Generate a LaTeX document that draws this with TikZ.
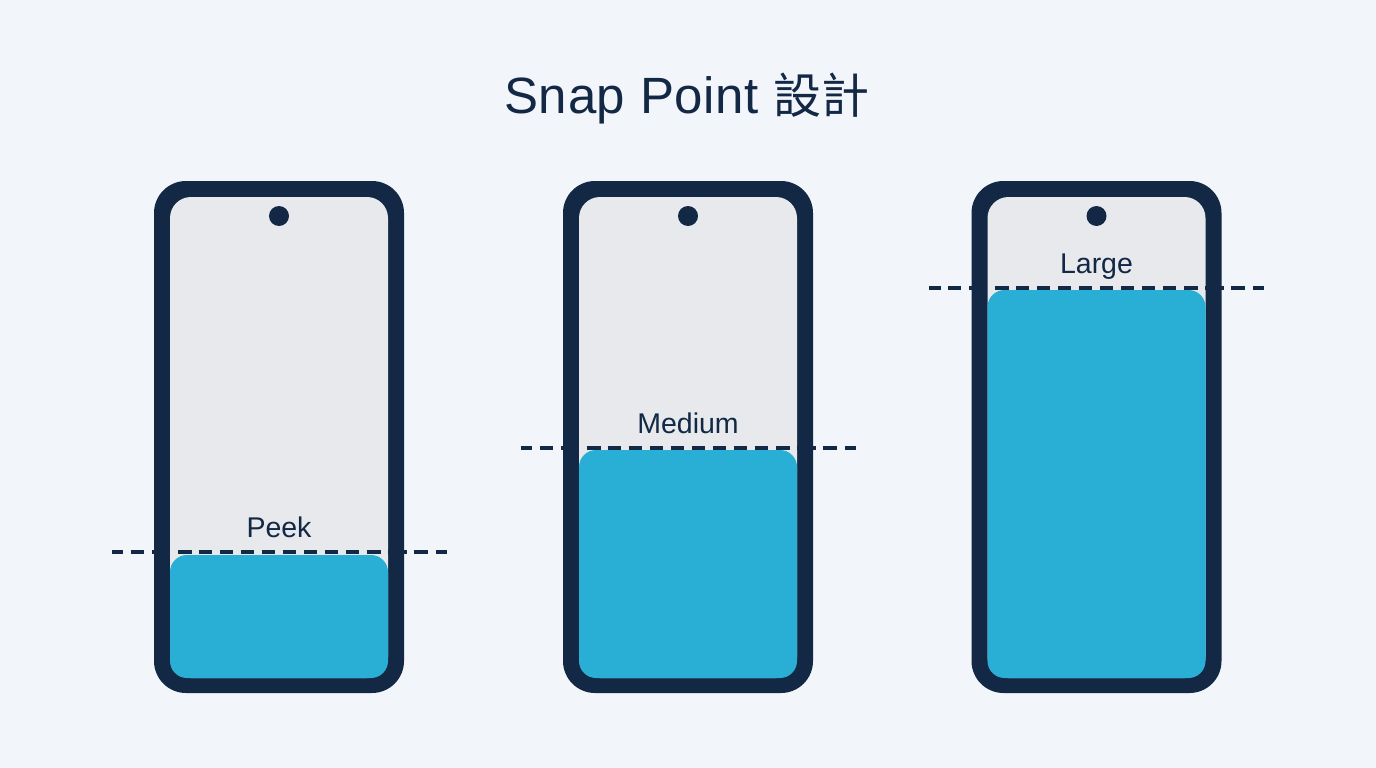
\documentclass[tikz,border=0pt]{standalone}
\usepackage{fontspec}
\setmainfont{Liberation Sans}
\newfontfamily\titlefont[LetterSpace=1.2]{Liberation Sans}
\newfontfamily\cjkfont{Noto Sans CJK TC}
\definecolor{bgc}{HTML}{F2F5FA}
\definecolor{navy}{HTML}{122844}
\definecolor{screenc}{HTML}{E7E9ED}
\definecolor{sheetc}{HTML}{29AED6}
\definecolor{inkc}{HTML}{122844}
\tikzset{
  x=1pt,y=-1pt,
  pbody/.style={rectangle,fill=navy,draw=none,rounded corners=32pt,minimum width=250pt,minimum height=512pt,inner sep=0pt,outer sep=0pt},
  pscreen/.style={rectangle,fill=screenc,draw=none,rounded corners=21pt,minimum width=218pt,minimum height=481pt,inner sep=0pt,outer sep=0pt},
  pcam/.style={circle,fill=navy,draw=none,minimum size=20pt,inner sep=0pt,outer sep=0pt},
  psheet/.style={fill=sheetc,draw=none},
  snapline/.style={draw=navy,line width=4pt,dash pattern=on 11.5pt off 7.5pt on 13pt off 8pt on 14pt off 12pt on 14pt off 7pt on 13pt off 8pt on 13pt off 8pt on 13pt off 8pt on 13pt off 8pt on 13pt off 8pt on 13pt off 8pt on 13pt off 8pt on 13pt off 8pt on 14pt off 7pt on 19pt off 7pt on 14pt off 8pt on 11pt off 50pt},
  snaplabel/.style={font=\fontsize{28.5}{32}\selectfont,text=inkc,inner sep=0pt,anchor=base},
  titlelabel/.style={font=\titlefont\fontsize{51}{60}\selectfont,text=inkc,inner sep=0pt,anchor=base}
}
\newcommand{\phonedraw}[5]{% prefix, centre x, sheet top y, line y, label
  \node[pbody] (#1body) at (#2,437) {};
  \node[pscreen] (#1screen) at (#2,437.5) {};
  \node[pcam] (#1cam) at (#2,216) {};
  \fill[psheet,rounded corners=17pt] (#2-109,678) -- (#2-109,#3) -- (#2+109,#3) -- (#2+109,678) -- cycle;
  \coordinate (#1a) at (#2-167.5,#4);
  \coordinate (#1b) at (#2+167.5,#4);
  \draw[snapline] (#1a) -- (#1b);
  \node[snaplabel] (#1label) at (#2,#4-14.5) {#5};
}
\begin{document}
\begin{tikzpicture}
\useasboundingbox (0,0) rectangle (1376,768);
\fill[bgc] (0,0) rectangle (1376,768);
\node[titlelabel] (title) at (687,113) {Snap Point {\cjkfont\fontsize{48}{60}\selectfont 設計}};
\phonedraw{p}{279}{555}{552}{Peek}
\phonedraw{m}{688}{450}{447.5}{Medium}
\phonedraw{l}{1096.5}{290}{287.5}{Large}
\end{tikzpicture}
\end{document}
